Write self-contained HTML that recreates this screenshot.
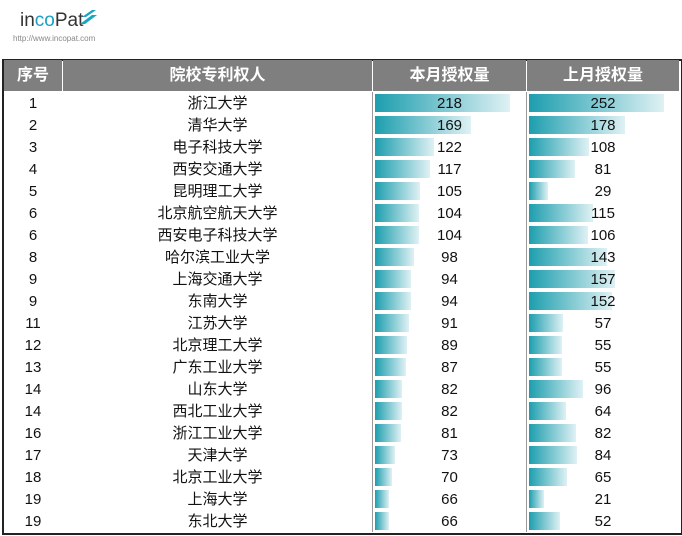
<!DOCTYPE html>
<html><head><meta charset="utf-8"><style>
body{margin:0;width:682px;height:536px;background:#fff;position:relative;overflow:hidden;font-family:"Liberation Sans","Noto Sans CJK SC",sans-serif;}
.a{position:absolute}
.hd{position:absolute;top:60px;height:31px;background:#7f7f7f;color:#fff;font-weight:bold;font-size:16px;line-height:31px;text-align:center}
.c{position:absolute;height:22px;line-height:22px;font-size:15px;text-align:center;color:#111}
.bar{position:absolute;height:18px;background:linear-gradient(to right,#1d9eae,#dff1f4)}
</style></head><body>
<div class="a" style="left:20px;top:10px;font-size:19px;color:#333">in<span style="color:#1a9fc0">co</span>Pat</div>
<svg class="a" style="left:78px;top:8px" width="22" height="18"><polygon points="4,9 14,2 18,2 8,9" fill="#1aa6c0"/><polygon points="2,16 14,7 19,7 7,16" fill="#1aa6c0"/></svg>
<div class="a" style="left:13px;top:34px;font-size:8px;color:#888">http://www.incopat.com</div>
<div class="a" style="left:2px;top:59px;width:677px;height:472px;border:2px solid #222"></div>
<div class="hd" style="left:4px;width:58px">序号</div>
<div class="hd" style="left:63px;width:309px">院校专利权人</div>
<div class="hd" style="left:373px;width:153px">本月授权量</div>
<div class="hd" style="left:527px;width:152px">上月授权量</div>
<div class="a" style="left:372px;top:92px;width:1px;height:440px;background:#999"></div>
<div class="a" style="left:526px;top:92px;width:1px;height:440px;background:#999"></div>
<div id="rows"></div>
<script>
var d=[[1,"浙江大学",218,252],[2,"清华大学",169,178],[3,"电子科技大学",122,108],[4,"西安交通大学",117,81],[5,"昆明理工大学",105,29],[6,"北京航空航天大学",104,115],[6,"西安电子科技大学",104,106],[8,"哈尔滨工业大学",98,143],[9,"上海交通大学",94,157],[9,"东南大学",94,152],[11,"江苏大学",91,57],[12,"北京理工大学",89,55],[13,"广东工业大学",87,55],[14,"山东大学",82,96],[14,"西北工业大学",82,64],[16,"浙江工业大学",81,82],[17,"天津大学",73,84],[18,"北京工业大学",70,65],[19,"上海大学",66,21],[19,"东北大学",66,52]];
var h="";
d.forEach(function(r,i){var t=93+i*22;
var w1=14+(r[2]-66)*0.796,w2=15+(r[3]-21)*0.519;
h+='<div class="bar" style="left:375px;top:'+(t+1)+'px;width:'+w1+'px"></div>';
h+='<div class="bar" style="left:529px;top:'+(t+1)+'px;width:'+w2+'px"></div>';
h+='<div class="c" style="left:4px;width:58px;top:'+t+'px">'+r[0]+'</div>';
h+='<div class="c" style="left:63px;width:309px;top:'+t+'px">'+r[1]+'</div>';
h+='<div class="c" style="left:373px;width:153px;top:'+t+'px">'+r[2]+'</div>';
h+='<div class="c" style="left:527px;width:152px;top:'+t+'px">'+r[3]+'</div>';});
document.getElementById("rows").innerHTML=h;
</script>
</body></html>
